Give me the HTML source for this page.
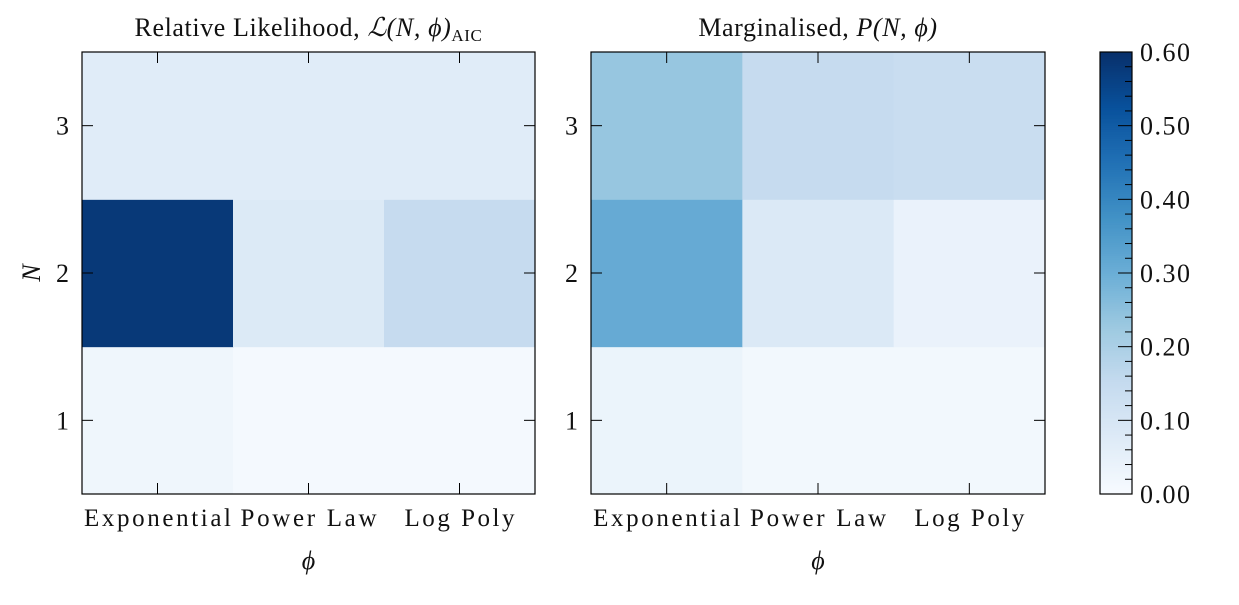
<!DOCTYPE html>
<html><head><meta charset="utf-8"><style>
body{margin:0;background:#fff}
svg text{font-family:"Liberation Serif",serif;fill:#111}
</style></head><body>
<svg id="c" width="1239" height="600" xmlns="http://www.w3.org/2000/svg"></svg>
<script>
const phiCats = ["Exponential","Power Law","Log Poly"];
const nCats = [1,2,3];
// values[row N index][phi index]
const likelihoodValues = [[0.025,0.01,0.01],[0.58,0.08,0.15],[0.07,0.07,0.07]];
const marginalValues = [[0.035,0.015,0.015],[0.31,0.085,0.04],[0.235,0.15,0.14]];
const cbarTicks = [0,0.1,0.2,0.3,0.4,0.5,0.6];
const vmax = 0.6;
const labelWidths = [147,136,110];

const blues=["#f7fbff","#deebf7","#c6dbef","#9ecae1","#6baed6","#4292c6","#2171b5","#08519c","#08306b"];
function hex(h){return [1,3,5].map(i=>parseInt(h.substr(i,2),16));}
function cmap(v){let t=Math.max(0,Math.min(1,v/vmax))*8;let i=Math.min(7,Math.floor(t));let f=t-i;
 const a=hex(blues[i]),b=hex(blues[i+1]);return "rgb("+a.map((x,k)=>Math.round(x+(b[k]-x)*f)).join(",")+")";}
const svg=document.getElementById('c');const NS="http://www.w3.org/2000/svg";
function el(tag,attrs,parent){const e=document.createElementNS(NS,tag);for(const k in attrs)e.setAttribute(k,attrs[k]);(parent||svg).appendChild(e);return e;}
const topY=52,bot=494,H=bot-topY;
function yS(n){return bot-(n-0.5)/3*H;}
function panel(x0,w,vals,title,name,showY){
 const g=el('g',{});
 
 
 const xS=i=>x0+(i+0.5)*w/3;
 vals.forEach((row,r)=>row.forEach((v,c)=>{
  const rc=el('rect',{x:x0+c*w/3,y:yS(nCats[r]+0.5),width:w/3+0.5,height:H/3+0.5,fill:cmap(v)},g);
  
  
 }));
 el('rect',{x:x0,y:topY,width:w,height:H,fill:'none',stroke:'#000','stroke-width':1.2},g);
 phiCats.forEach((p,i)=>{const x=xS(i);
  el('line',{x1:x,x2:x,y1:bot,y2:bot-11,stroke:'#000'},g);
  el('line',{x1:x,x2:x,y1:topY,y2:topY+11,stroke:'#000'},g);
  const t=el('text',{x:x,y:526,'text-anchor':'middle','font-size':25,textLength:labelWidths[i],lengthAdjust:'spacing'},g);t.textContent=p;
  });
 nCats.forEach(n=>{const y=yS(n);
  el('line',{x1:x0,x2:x0+11,y1:y,y2:y,stroke:'#000'},g);
  el('line',{x1:x0+w,x2:x0+w-11,y1:y,y2:y,stroke:'#000'},g);
  const t=el('text',{x:x0-13,y:y+9,'text-anchor':'end','font-size':26},g);t.textContent=n;
  });
 const xt=el('text',{x:x0+w/2,y:569,'text-anchor':'middle','font-size':26,'font-style':'italic'},g);xt.textContent='ϕ';
 
 const tt=el('text',{x:x0+w/2,y:36,'text-anchor':'middle','font-size':26,'letter-spacing':0.6},g);tt.innerHTML=title;
 
 if(showY){const yt=el('text',{x:0,y:0,'text-anchor':'middle','font-size':26,'font-style':'italic',transform:'translate(40,'+yS(2)+') rotate(-90)'},g);yt.textContent='N';
  }
}
panel(82,453,likelihoodValues,'Relative Likelihood, <tspan font-style="italic">ℒ(N, ϕ)</tspan><tspan font-size="17" dy="5">AIC</tspan>','likelihood-panel',true);
panel(591,454,marginalValues,'Marginalised, <tspan font-style="italic">P(N, ϕ)</tspan>','marginal-panel',false);
// colorbar
const cx=1100,cw=32;
const cg=el('g',{});


const cy=v=>bot-v/vmax*H;
for(let i=0;i<200;i++){const v0=i/200*vmax,v1=(i+1)/200*vmax;
 el('rect',{x:cx,y:cy(v1),width:cw,height:cy(v0)-cy(v1)+0.6,fill:cmap((v0+v1)/2)},cg);}
el('rect',{x:cx,y:topY,width:cw,height:H,fill:'none',stroke:'#000','stroke-width':1.2},cg);
for(let k=0;k<=30;k++){const v=k*0.02;const y=cy(v);const major=k%5==0;
 el('line',{x1:cx+cw,x2:cx+cw-(major?14:7),y1:y,y2:y,stroke:'#000'},cg);}
cbarTicks.forEach(v=>{const t=el('text',{x:cx+cw+8,y:cy(v)+9,'font-size':26,textLength:50,lengthAdjust:'spacing'},cg);t.textContent=v.toFixed(2);
 });
</script>
</body></html>
